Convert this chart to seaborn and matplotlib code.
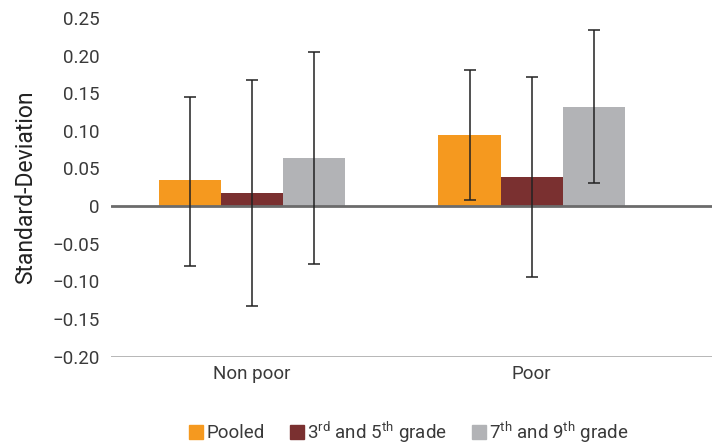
import matplotlib
matplotlib.use("Agg")
import matplotlib.pyplot as plt
import seaborn as sns
import pandas as pd
import numpy as np

groups = ["Non poor", "Poor"]
series = ["Pooled", "3$^{\\rm rd}$ and 5$^{\\rm th}$ grade", "7$^{\\rm th}$ and 9$^{\\rm th}$ grade"]
values = {
    series[0]: [0.035, 0.094],
    series[1]: [0.017, 0.039],
    series[2]: [0.064, 0.131],
}
ci_low = {
    series[0]: [-0.080, 0.008],
    series[1]: [-0.133, -0.094],
    series[2]: [-0.077, 0.031],
}
ci_high = {
    series[0]: [0.145, 0.181],
    series[1]: [0.167, 0.171],
    series[2]: [0.204, 0.234],
}
colors = ["#F5991F", "#7A3030", "#B2B3B6"]
yticks = [-0.20, -0.15, -0.10, -0.05, 0, 0.05, 0.10, 0.15, 0.20, 0.25]
ytick_labels = ["\u22120.20", "\u22120.15", "\u22120.10", "\u22120.05", "0",
                "0.05", "0.10", "0.15", "0.20", "0.25"]

sns.set_style("white")
plt.rcParams["font.family"] = ["Roboto", "DejaVu Sans"]
plt.rcParams["mathtext.fontset"] = "custom"
plt.rcParams["mathtext.rm"] = "Roboto"
plt.rcParams["text.color"] = "#333333"

rows = []
for s in series:
    for g, v in zip(groups, values[s]):
        rows.append({"group": g, "series": s, "value": v})
df = pd.DataFrame(rows)

fig = plt.figure(figsize=(7.15, 4.46), dpi=100)
ax = fig.add_axes([0.155, 0.2, 0.841, 0.76])
sns.barplot(data=df, x="group", y="value", hue="series", order=groups,
            hue_order=series, palette=colors, errorbar=None, width=0.667,
            saturation=1, ax=ax, linewidth=0)

for s, cont in zip(series, ax.containers):
    for i, patch in enumerate(cont.patches):
        x = patch.get_x() + patch.get_width() / 2
        v = values[s][i]
        ax.errorbar(x, v, yerr=[[v - ci_low[s][i]], [ci_high[s][i] - v]],
                    fmt="none", ecolor="#222222", elinewidth=1.1,
                    capsize=4.5, capthick=1.1, zorder=5)

ax.set_xlim(-0.505, 1.645)
ax.set_ylim(-0.20, 0.25)
ax.set_yticks(yticks)
ax.set_yticklabels(ytick_labels)
ax.axhline(0, color="#6b6b6b", lw=2, zorder=4)
ax.axhline(-0.20, color="#aaaaaa", lw=1.2, zorder=4)
for sp in ax.spines.values():
    sp.set_visible(False)
ax.tick_params(axis="both", length=0, labelsize=13.5, colors="#3a3a3a")
ax.tick_params(axis="x", pad=6)
ax.tick_params(axis="y", pad=8)
ax.set_xlabel("")
ax.set_ylabel("Standard-Deviation", fontsize=16.5, color="#222222", labelpad=11)

ax.legend_.remove()
handles = [plt.Rectangle((0, 0), 1, 1, color=c) for c in colors]
fig.legend(handles, series, loc="center", bbox_to_anchor=(0.572, 0.032),
           ncol=3, frameon=False, fontsize=13.5, handlelength=0.75,
           handleheight=0.75, handletextpad=0.15, columnspacing=1.35,
           labelcolor="#3a3a3a")

fig.savefig("out.png", dpi=100)
